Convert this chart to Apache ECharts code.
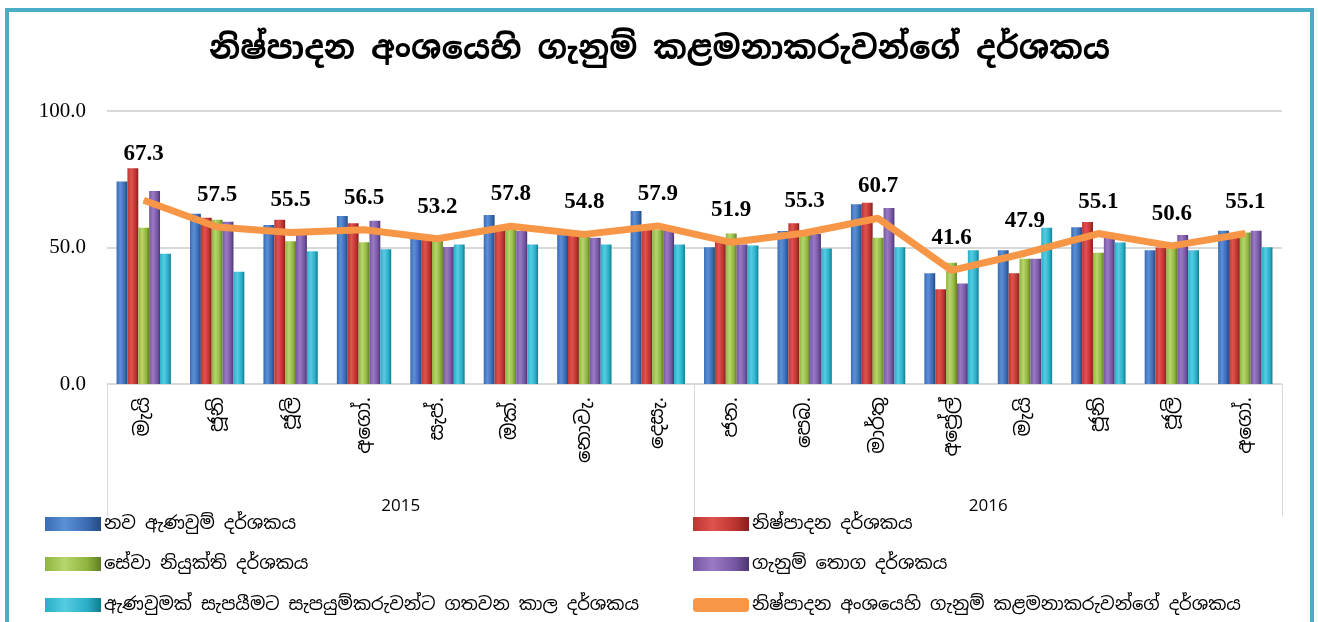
<!DOCTYPE html>
<html>
<head>
<meta charset="utf-8">
<script src="https://cdn.jsdelivr.net/npm/echarts@6/dist/echarts.min.js"></script>
<style>
  html, body { margin: 0; padding: 0; background: #fff; }
  #frame { position: absolute; left: 5px; top: 8px; width: 1301px; height: 620px; border: 4px solid #4bacc6; border-bottom: none; }
  #chart { position: absolute; left: 0; top: 0; width: 1319px; height: 622px; }
</style>
</head>
<body>
<div id="frame"></div>
<div id="chart"></div>
<script>
const months = ['මැයි', 'ජූනි', 'ජූලි', 'අගෝ.', 'සැප්.', 'ඔක්.', 'නොවැ.', 'දෙසැ.',
                'ජන.', 'පෙබ.', 'මාර්තු', 'අප්‍රේල්', 'මැයි', 'ජූනි', 'ජූලි', 'අගෝ.'];
const years = ['2015', '2016'];
const yTicks = [0, 50, 100];

const newOrders = [74.2, 62.4, 58.2, 61.5, 53.4, 61.9, 54.8, 63.4, 50.1, 56.0, 65.8, 40.6, 49.0, 57.4, 49.0, 56.1];
const production = [79.0, 60.9, 60.2, 58.9, 53.0, 57.5, 55.0, 58.0, 52.0, 58.9, 66.4, 34.7, 40.6, 59.3, 50.0, 55.0];
const employment = [57.2, 60.2, 52.3, 51.9, 53.0, 57.5, 55.0, 56.4, 55.1, 55.0, 53.6, 44.4, 45.9, 48.1, 50.0, 55.5];
const stocks = [70.7, 59.4, 54.8, 59.8, 50.2, 56.0, 53.6, 57.0, 51.1, 55.0, 64.5, 36.8, 45.9, 54.0, 54.6, 56.1];
const deliveryTime = [47.7, 41.1, 48.6, 49.4, 51.1, 51.1, 51.1, 51.1, 50.7, 49.6, 50.1, 49.0, 57.2, 51.8, 49.0, 50.1];
const pmi = [67.3, 57.5, 55.5, 56.5, 53.2, 57.8, 54.8, 57.9, 51.9, 55.3, 60.7, 41.6, 47.9, 55.1, 50.6, 55.1];

const names = [
  'නව ඇණවුම් දර්ශකය',
  'නිෂ්පාදන දර්ශකය',
  'සේවා නියුක්ති දර්ශකය',
  'ගැනුම් තොග දර්ශකය',
  'ඇණවුමක් සැපයීමට සැපයුම්කරුවන්ට ගතවන කාල දර්ශකය',
  'නිෂ්පාදන අංශයෙහි ගැනුම් කළමනාකරුවන්ගේ දර්ශකය'
];
const colors = [
  ['#5b8fd6', '#3a6cb4', '#24497f'],
  ['#e0534f', '#be3430', '#82201d'],
  ['#b6d66c', '#8fb43e', '#5f7d22'],
  ['#9a7ac4', '#7657a3', '#4c356f'],
  ['#55cce2', '#2aaec8', '#167a8e']
];
const barData = [newOrders, production, employment, stocks, deliveryTime];

const sinhala = '"Noto Sans Sinhala", "Iskoola Pota", "Noto Sans", sans-serif';

function grad(c) {
  return new echarts.graphic.LinearGradient(0, 0, 1, 0, [
    { offset: 0, color: c[1] },
    { offset: 0.35, color: c[0] },
    { offset: 0.75, color: c[1] },
    { offset: 1, color: c[2] }
  ]);
}

const series = barData.map((d, i) => ({
  name: names[i],
  type: 'bar',
  data: d,
  barGap: '0%',
  barCategoryGap: '26%',
  itemStyle: { color: grad(colors[i]) }
}));

series.push({
  name: names[5],
  type: 'line',
  data: pmi.map((v, i) => i === 0 ? { value: v, label: { distance: 34 } } : v),
  symbol: 'circle',
  symbolSize: 1,
  z: 5,
  lineStyle: { color: '#f79646', width: 7 },
  itemStyle: { color: '#f79646' },
  label: {
    show: true,
    position: 'top',
    distance: 20,
    formatter: p => p.value.toFixed(1),
    fontFamily: '"Liberation Serif", serif',
    fontWeight: 'bold',
    fontSize: 23,
    color: '#000'
  }
});

// legend: two columns, three rows
const legendPos = [[45, 523], [693, 523], [45, 563], [693, 563], [45, 604], [693, 604]];
const legends = names.map((n, i) => ({
  left: legendPos[i][0],
  top: legendPos[i][1] - 8,
  padding: 0,
  itemWidth: 56, itemHeight: 14,
  itemGap: 4,
  icon: i === 5 ? 'roundRect' : 'rect',
  textStyle: { fontFamily: sinhala, fontSize: 18, color: '#000', padding: [0, 0, 0, -2] },
  data: [n]
}));

const chart = echarts.init(document.getElementById('chart'));
chart.setOption({
  animation: false,
  title: {
    text: names[5],
    left: 'center',
    top: 29,
    textStyle: { fontFamily: sinhala, fontWeight: 'bold', fontSize: 32, color: '#000' }
  },
  grid: { left: 107, right: 37, top: 111, bottom: 238 },
  legend: legends,
  xAxis: [
    {
      type: 'category',
      data: months,
      axisLine: { lineStyle: { color: '#d9d9d9', width: 1 } },
      axisTick: { show: false },
      axisLabel: {
        rotate: 90, interval: 0, margin: 13,
        fontFamily: sinhala, fontSize: 20, color: '#000'
      }
    },
    {
      type: 'category',
      data: years,
      position: 'bottom',
      axisLine: { show: false },
      axisTick: { show: true, length: 132, lineStyle: { color: '#d9d9d9' } },
      axisLabel: { margin: 114, fontFamily: '"Open Sans", "Noto Sans", sans-serif', fontSize: 17, color: '#000' }
    }
  ],
  yAxis: {
    type: 'value',
    min: yTicks[0],
    max: yTicks[yTicks.length - 1],
    interval: yTicks[1] - yTicks[0],
    axisLine: { show: false },
    axisTick: { show: false },
    splitLine: { lineStyle: { color: '#d9d9d9', width: 2 } },
    axisLabel: {
      margin: 21,
      formatter: v => v.toFixed(1),
      fontFamily: '"Liberation Serif", serif',
      fontSize: 21,
      color: '#000'
    }
  },
  series: series
});
</script>
</body>
</html>
